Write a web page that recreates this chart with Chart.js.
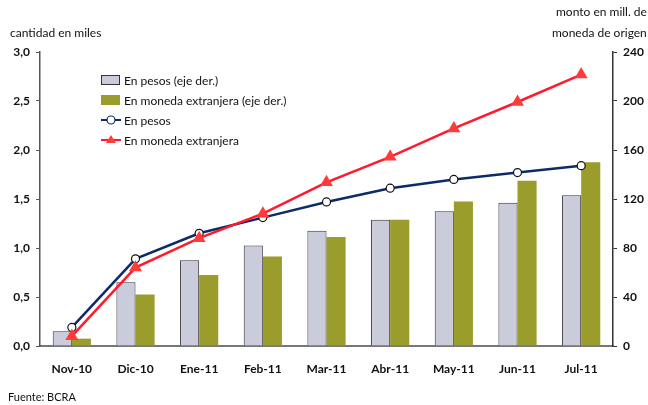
<!DOCTYPE html>
<html>
<head>
<meta charset="utf-8">
<script src="https://cdn.jsdelivr.net/npm/chart.js@4"></script>
<style>
  html, body { margin: 0; padding: 0; background: #fff; }
  #wrap { width: 648px; height: 405px; position: relative; }
</style>
</head>
<body>
<div id="wrap"><canvas id="myChart" width="648" height="405"></canvas></div>
<script>
const months = ['Nov-10','Dic-10','Ene-11','Feb-11','Mar-11','Abr-11','May-11','Jun-11','Jul-11']
// bars, right axis (monto en mill.)
const montoPesos = [12, 52, 70, 82, 94, 103, 110, 117, 123]
const montoExtranjera = [6, 42, 58, 73, 89, 103, 118, 135, 150]
// lines, left axis (cantidad en miles)
const cantPesos = [0.19, 0.89, 1.15, 1.31, 1.47, 1.61, 1.70, 1.77, 1.84]
const cantExtranjera = [0.10, 0.80, 1.10, 1.35, 1.67, 1.93, 2.22, 2.49, 2.77]

const font = "Lato, 'Open Sans', sans-serif"

let extras = {
  id: 'extras',
  afterDraw(chart) {
    const ctx = chart.ctx
    ctx.save()
    ctx.fillStyle = '#111'
    ctx.font = '12px ' + font
    ctx.textBaseline = 'middle'
    ctx.textAlign = 'left'
    ctx.fillText('cantidad en miles', 10, 33)
    ctx.fillText('monto en mill. de', 556, 12)
    ctx.fillText('moneda de origen', 552, 33)
    ctx.font = '11px ' + font
    ctx.fillText('Fuente: BCRA', 8, 397)

    // legend
    const ds = chart.data.datasets
    ctx.font = '12px ' + font
    let y = 80
    ds.forEach((d, i) => {
      const x = 101
      if (d.type === 'bar') {
        ctx.fillStyle = d.backgroundColor
        ctx.fillRect(x, y - 5, 19, 10)
        if (d.borderWidth) {
          ctx.strokeStyle = '#333'
          ctx.lineWidth = 1
          ctx.strokeRect(x + 0.5, y - 4.5, 18, 9)
        }
      } else {
        ctx.strokeStyle = d.borderColor
        ctx.lineWidth = 2
        ctx.beginPath()
        ctx.moveTo(x, y)
        ctx.lineTo(x + 20, y)
        ctx.stroke()
        if (d.pointStyle === 'triangle') {
          ctx.fillStyle = d.pointBackgroundColor
          ctx.beginPath()
          ctx.moveTo(x + 10, y - 5)
          ctx.lineTo(x + 15, y + 3)
          ctx.lineTo(x + 5, y + 3)
          ctx.closePath()
          ctx.fill()
        } else {
          ctx.fillStyle = '#fff'
          ctx.lineWidth = 1.2
          ctx.beginPath()
          ctx.arc(x + 10, y, 4, 0, Math.PI * 2)
          ctx.fill()
          ctx.stroke()
        }
      }
      ctx.fillStyle = '#111'
      ctx.fillText(d.label, x + 23, y + 1)
      y += 20
    })
    ctx.restore()
  }
}

let chart = new Chart('myChart', {
  type: 'bar',
  data: {
    labels: months,
    datasets: [
      {
        type: 'bar',
        label: 'En pesos (eje der.)',
        data: montoPesos,
        yAxisID: 'y1',
        backgroundColor: '#cbccdb',
        borderColor: '#333',
        borderWidth: {top: 1, left: 1, right: 1, bottom: 0},
        order: 2
      },
      {
        type: 'bar',
        label: 'En moneda extranjera (eje der.)',
        data: montoExtranjera,
        yAxisID: 'y1',
        backgroundColor: '#9a9c2c',
        borderWidth: 0,
        order: 2
      },
      {
        type: 'line',
        label: 'En pesos',
        data: cantPesos,
        yAxisID: 'y',
        borderColor: '#0d2b66',
        borderWidth: 2.5,
        pointStyle: 'circle',
        pointRadius: 4,
        pointBackgroundColor: '#fff',
        pointBorderColor: '#111',
        pointBorderWidth: 1.2,
        order: 1
      },
      {
        type: 'line',
        label: 'En moneda extranjera',
        data: cantExtranjera,
        yAxisID: 'y',
        borderColor: '#ff1a2e',
        borderWidth: 2.5,
        pointStyle: 'triangle',
        pointRadius: 5,
        pointBackgroundColor: '#ff3b3b',
        pointBorderColor: '#ff3b3b',
        order: 0
      }
    ]
  },
  options: {
    responsive: false,
    animation: false,
    layout: { padding: { top: 52, left: 0, right: 0, bottom: 0 } },
    plugins: {
      legend: { display: false },
      tooltip: { enabled: false }
    },
    datasets: {
      bar: { categoryPercentage: 0.6, barPercentage: 1 }
    },
    scales: {
      x: {
        grid: { display: false, drawTicks: false },
        border: { color: '#777', width: 2 },
        ticks: { color: '#111', font: { family: font, size: 12, weight: 'bold' }, padding: 16, maxRotation: 0 },
        afterFit: s => { s.height = 59 }
      },
      y: {
        position: 'left',
        min: 0,
        max: 3,
        grid: { drawOnChartArea: false, tickLength: 4, color: '#555' },
        border: { color: '#555', width: 1.5 },
        ticks: {
          stepSize: 0.5,
          color: '#111',
          padding: 6,
          font: { family: font, size: 12, weight: 'bold' },
          callback: v => v.toFixed(1).replace('.', ',')
        },
        afterFit: s => { s.width = 40 }
      },
      y1: {
        position: 'right',
        min: 0,
        max: 240,
        grid: { drawOnChartArea: false, tickLength: 4, color: '#333' },
        border: { color: '#333', width: 1.5 },
        ticks: {
          stepSize: 40,
          color: '#111',
          padding: 6,
          font: { family: font, size: 12, weight: 'bold' }
        },
        afterFit: s => { s.width = 35 }
      }
    }
  },
  plugins: [extras]
})
</script>
</body>
</html>
